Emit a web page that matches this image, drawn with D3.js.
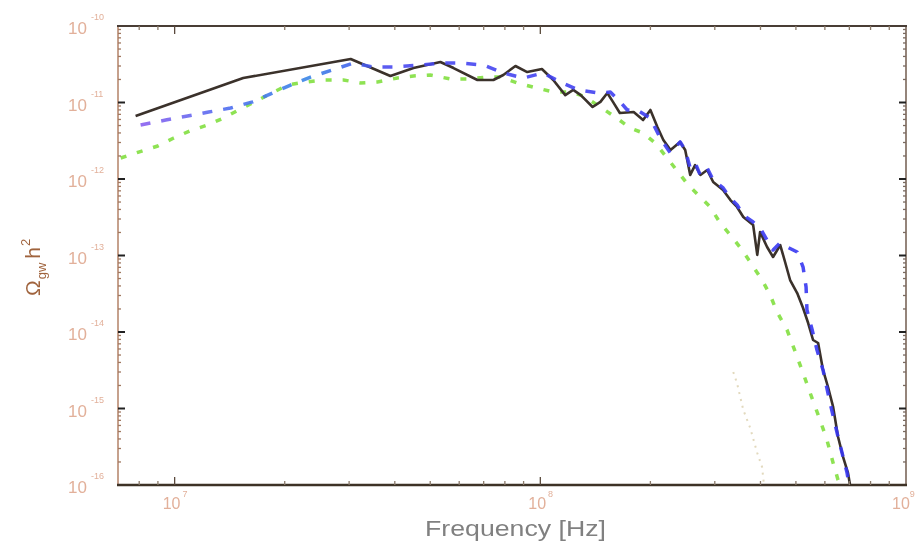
<!DOCTYPE html>
<html><head><meta charset="utf-8">
<script src="https://cdn.jsdelivr.net/npm/d3@7"></script>
<style>html,body{margin:0;padding:0;background:#fff;} svg{display:block;font-family:"Liberation Sans",Arial,sans-serif;}</style>
</head><body><svg id="chart" width="916" height="545"></svg>
<script>
// ---- data (frequency in Hz, Omega_gw h^2) ----
const freqSolid = [7.82e6,1.54e7,3.03e7,3.89e7,4.50e7,5.33e7,5.79e7,6.73e7,7.44e7,7.92e7,8.55e7,9.21e7,1.01e8,1.085e8,1.17e8,1.23e8,1.29e8,1.39e8,1.46e8,1.525e8,1.58e8,1.65e8,1.80e8,1.91e8,2.00e8,2.09e8,2.17e8,2.27e8,2.41e8,2.49e8,2.57e8,2.65e8,2.74e8,2.86e8,2.97e8,3.16e8,3.31e8,3.45e8,3.59e8,3.82e8,3.92e8,3.99e8,4.17e8,4.33e8,4.53e8,4.67e8,4.82e8,5.04e8,5.23e8,5.40e8,5.57e8,5.75e8,5.93e8,6.12e8,6.32e8,6.52e8,6.73e8,6.94e8,7.03e8];
const omegaSolid = [6.66e-12,2.09e-11,3.70e-11,2.22e-11,2.82e-11,3.38e-11,2.82e-11,1.97e-11,1.97e-11,2.29e-11,3.00e-11,2.50e-11,2.74e-11,1.97e-11,1.25e-11,1.46e-11,1.25e-11,8.73e-12,1.02e-11,1.33e-11,1.02e-11,7.29e-12,7.51e-12,5.90e-12,7.98e-12,4.78e-12,3.23e-12,2.39e-12,3.05e-12,2.39e-12,1.13e-12,1.52e-12,1.13e-12,1.31e-12,9.14e-13,7.18e-13,5.31e-13,4.31e-13,3.19e-13,2.50e-13,1.02e-13,2.03e-13,1.29e-13,9.56e-14,1.37e-13,8.22e-14,4.78e-14,3.23e-14,2.06e-14,1.31e-14,7.86e-15,7.18e-15,3.19e-15,1.91e-15,1.05e-15,4.24e-16,2.32e-16,1.44e-16,1.0e-16];

const freqDashed = [8.07e6,9.45e6,1.085e7,1.239e7,1.422e7,1.634e7,1.853e7,2.075e7,2.353e7,2.70e7,3.084e7,3.498e7,3.966e7,4.70e7,5.33e7,6.04e7,6.99e7,7.92e7,8.98e7,1.019e8,1.134e8,1.270e8,1.440e8,1.554e8,1.654e8,1.729e8,1.841e8,1.998e8,2.128e8,2.266e8,2.413e8,2.490e8,2.570e8,2.652e8,2.736e8,2.859e8,2.969e8,3.162e8,3.305e8,3.454e8,3.587e8,3.819e8,3.99e8,4.17e8,4.33e8,4.525e8,4.73e8,5.04e8,5.23e8,5.33e8,5.36e8,5.54e8,5.71e8,5.93e8,6.20e8,6.52e8,6.90e8,6.99e8];
const omegaDashed = [5.08e-12,5.90e-12,6.66e-12,7.51e-12,8.47e-12,1.02e-11,1.33e-11,1.69e-11,2.15e-11,2.66e-11,3.28e-11,2.91e-11,2.91e-11,3.09e-11,3.28e-11,3.28e-11,3.09e-11,2.43e-11,2.09e-11,2.43e-11,1.85e-11,1.46e-11,1.33e-11,1.37e-11,1.02e-11,7.98e-12,7.98e-12,6.27e-12,3.43e-12,2.19e-12,3.05e-12,2.39e-12,1.39e-12,1.62e-12,1.13e-12,1.39e-12,9.70e-13,7.63e-13,5.64e-13,4.57e-13,3.38e-13,2.74e-13,2.29e-13,1.59e-13,1.18e-13,1.46e-13,1.29e-13,1.11e-13,7.07e-14,3.87e-14,1.94e-14,1.06e-14,5.82e-15,3.19e-15,1.18e-15,4.24e-16,1.44e-16,1.0e-16];

const freqDotted = [7.12e6,7.97e6,8.99e6,9.94e6,1.099e7,1.231e7,1.361e7,1.496e7,2.036e7,2.28e7,2.537e7,2.896e7,3.223e7,3.586e7,4.067e7,4.50e7,5.006e7,5.677e7,6.36e7,7.165e7,7.778e7,8.655e7,9.57e7,1.085e8,1.223e8,1.327e8,1.459e8,1.603e8,1.762e8,1.911e8,2.062e8,2.223e8,2.382e8,2.538e8,2.736e8,2.914e8,3.103e8,3.346e8,3.564e8,3.795e8,4.042e8,4.25e8,4.44e8,4.73e8,5.04e8,5.23e8,5.47e8,5.82e8,6.08e8,6.32e8,6.52e8,6.60e8];
const omegaDotted = [1.88e-12,2.25e-12,2.70e-12,3.43e-12,4.24e-12,5.08e-12,6.27e-12,7.98e-12,1.69e-11,1.85e-11,1.97e-11,1.97e-11,1.80e-11,1.85e-11,2.09e-11,2.22e-11,2.29e-11,2.03e-11,2.03e-11,2.15e-11,2.15e-11,1.80e-11,1.59e-11,1.37e-11,1.37e-11,1.18e-11,8.73e-12,6.46e-12,4.64e-12,3.99e-12,2.95e-12,1.88e-12,1.23e-12,8.35e-13,5.82e-13,4.31e-13,2.66e-13,1.74e-13,1.18e-13,7.51e-14,4.78e-14,3.05e-14,1.83e-14,1.06e-14,4.71e-15,2.91e-15,1.59e-15,7.07e-16,3.87e-16,1.94e-16,1.16e-16,1.0e-16];

const freqFaint = [3.37e8,3.45e8,3.59e8,3.75e8,3.92e8,4.04e8,4.09e8];
const omegaFaint = [3.0e-15,2.15e-15,9.56e-16,5.56e-16,2.62e-16,1.72e-16,1.0e-16];

const xTickExps = [7, 8, 9];
const yTickExps = [-10, -11, -12, -13, -14, -15, -16];
const xTitle = "Frequency [Hz]";

// ---- drawing ----
const svg = d3.select("#chart");
const L = 118, R = 906, T = 26, B = 485;
const x = d3.scaleLog().domain([7e6, 1e9]).range([L, R]);
const y = d3.scaleLog().domain([1e-16, 1e-10]).range([B, T]);

const defs = svg.append("defs");
defs.append("clipPath").attr("id", "clip").append("rect")
  .attr("x", L).attr("y", T).attr("width", R - L).attr("height", B - T);
const grad = defs.append("linearGradient").attr("id", "blueGrad")
  .attr("gradientUnits", "userSpaceOnUse").attr("x1", L).attr("x2", R).attr("y1", 0).attr("y2", 0);
grad.append("stop").attr("offset", "0%").attr("stop-color", "#9a5cf0");
grad.append("stop").attr("offset", "14%").attr("stop-color", "#4f6ef0");
grad.append("stop").attr("offset", "24%").attr("stop-color", "#3a86e6");
grad.append("stop").attr("offset", "34%").attr("stop-color", "#4a4af0");
grad.append("stop").attr("offset", "100%").attr("stop-color", "#3434f2");
const blur = defs.append("filter").attr("id", "soft");
blur.append("feGaussianBlur").attr("stdDeviation", 0.6);

const zip = (a, b) => a.map((f, i) => ({f, o: b[i]}));
const line = d3.line().x(d => x(d.f)).y(d => y(d.o)).curve(d3.curveLinear);

const plot = svg.append("g").attr("clip-path", "url(#clip)").attr("filter", "url(#soft)");
plot.append("path").datum(zip(freqFaint, omegaFaint)).attr("d", line)
  .attr("fill", "none").attr("stroke", "#e2d9bd").attr("stroke-width", 2)
  .attr("stroke-dasharray", "2 5");
plot.append("path").datum(zip(freqDotted, omegaDotted)).attr("d", line)
  .attr("fill", "none").attr("stroke", "#8ee252").attr("stroke-width", 3.5)
  .attr("stroke-dasharray", "6 11");
plot.append("path").datum(zip(freqSolid, omegaSolid)).attr("d", line)
  .attr("fill", "none").attr("stroke", "#3a302c").attr("stroke-width", 2.6)
  .attr("stroke-linejoin", "round");
plot.append("path").datum(zip(freqDashed, omegaDashed)).attr("d", line)
  .attr("fill", "none").attr("stroke", "url(#blueGrad)").attr("stroke-width", 3.5)
  .attr("stroke-linejoin", "round")
  .attr("stroke-dasharray", "10 11").attr("opacity", 0.9);

// ---- axes frame ----
const axisG = svg.append("g").attr("filter", "url(#soft)");
axisG.append("line").attr("x1", L).attr("x2", L).attr("y1", T).attr("y2", B).attr("stroke", "#b88a70").attr("stroke-width", 1.6);
axisG.append("line").attr("x1", R).attr("x2", R).attr("y1", T).attr("y2", B).attr("stroke", "#7a665a").attr("stroke-width", 1.6);
axisG.append("line").attr("x1", L - 1).attr("x2", R + 1).attr("y1", T).attr("y2", T).attr("stroke", "#4a3e34").attr("stroke-width", 2.2);
axisG.append("line").attr("x1", L - 1).attr("x2", R + 1).attr("y1", B).attr("y2", B).attr("stroke", "#3e3228").attr("stroke-width", 2.4);

// x ticks (top and bottom)
const xt = x.ticks().filter(v => x(v) > L + 2 && x(v) < R - 2);
xt.forEach(v => {
  const major = Math.abs(Math.log10(v) - Math.round(Math.log10(v))) < 1e-9;
  const len = major ? 8 : 4;
  const px = x(v);
  axisG.append("line").attr("x1", px).attr("x2", px).attr("y1", B).attr("y2", B - len)
    .attr("stroke", major ? "#5a4a3c" : "#8a7a6a").attr("stroke-width", 1.3);
  axisG.append("line").attr("x1", px).attr("x2", px).attr("y1", T).attr("y2", T + len)
    .attr("stroke", major ? "#5a4a3c" : "#8a7a6a").attr("stroke-width", 1.3);
});
// y ticks (left and right)
const yt = y.ticks().filter(v => y(v) > T + 2 && y(v) < B - 2);
yt.forEach(v => {
  const major = Math.abs(Math.log10(v) - Math.round(Math.log10(v))) < 1e-9;
  const len = major ? 7 : 3;
  const py = y(v);
  axisG.append("line").attr("x1", L).attr("x2", L + len).attr("y1", py).attr("y2", py)
    .attr("stroke", major ? "#222" : "#a07860").attr("stroke-width", major ? 2 : 1.3);
  axisG.append("line").attr("x1", R).attr("x2", R - len).attr("y1", py).attr("y2", py)
    .attr("stroke", major ? "#222" : "#7a6a60").attr("stroke-width", major ? 2 : 1.3);
});

// ---- tick labels ----
const labelColor = "#e2b09a";
const labels = svg.append("g").attr("filter", "url(#soft)");
yTickExps.forEach(e => {
  const t = labels.append("text").attr("x", 68).attr("y", y(Math.pow(10, e)) + 8)
    .attr("fill", labelColor);
  t.append("tspan").attr("font-size", 17).text("10");
  t.append("tspan").attr("font-size", 9).attr("dx", 4).attr("dy", -14).text(String(e));
});
xTickExps.forEach(e => {
  const px = x(Math.pow(10, e));
  const last = px > 900;
  const t = labels.append("text").attr("x", last ? px - 14 : px - 12).attr("y", 509)
    .attr("fill", labelColor);
  t.append("tspan").attr("font-size", 16).text("10");
  t.append("tspan").attr("font-size", 9).attr("dx", last ? 0 : 2).attr("dy", -12).text(String(e));
});

// ---- axis titles ----
labels.append("text").attr("x", 515.5).attr("y", 536).attr("text-anchor", "middle")
  .attr("font-size", 22).attr("fill", "#808080")
  .attr("textLength", 181).attr("lengthAdjust", "spacingAndGlyphs").text(xTitle);

const yt2 = labels.append("text").attr("transform", "translate(40,296) rotate(-90)")
  .attr("fill", "#a0643e");
yt2.append("tspan").attr("font-size", 21).text("\u03A9");
yt2.append("tspan").attr("font-size", 13).attr("dy", 6).attr("dx", 1).text("gw");
yt2.append("tspan").attr("font-size", 21).attr("dy", -6).attr("dx", 4).text("h");
yt2.append("tspan").attr("font-size", 13).attr("dy", -10).attr("dx", 1).text("2");
</script></body></html>
